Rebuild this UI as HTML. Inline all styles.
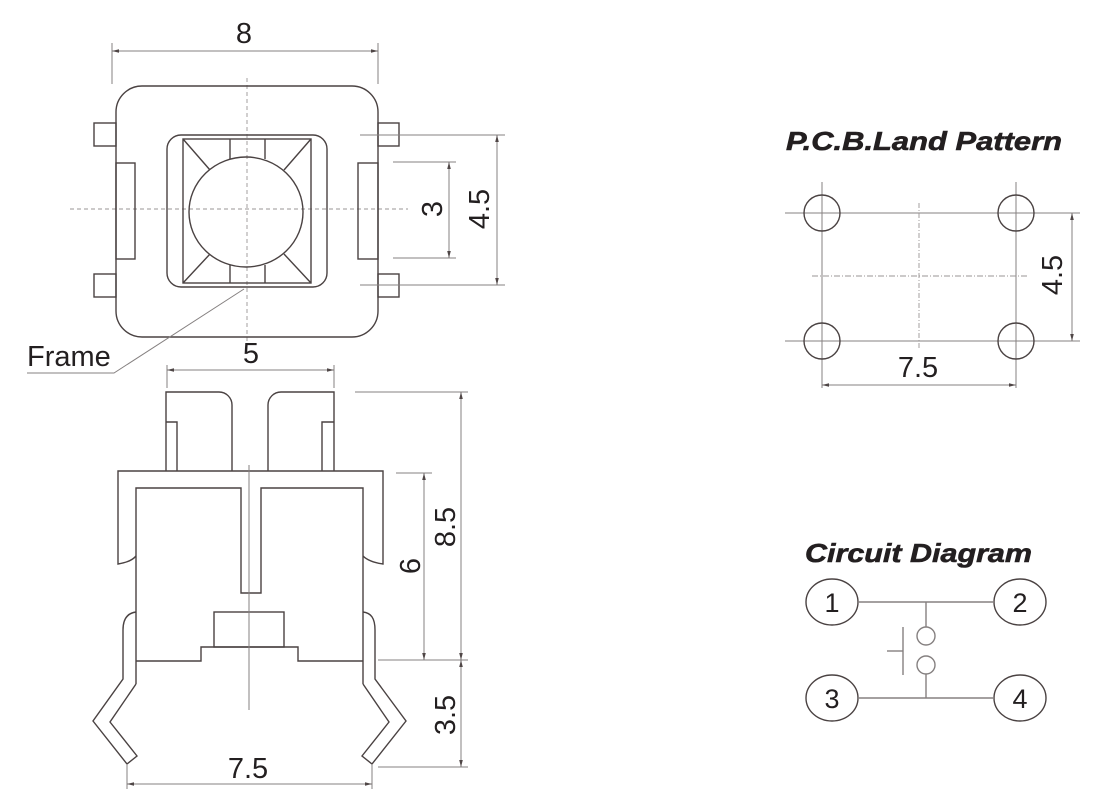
<!DOCTYPE html>
<html>
<head>
<meta charset="utf-8">
<style>
html,body{margin:0;padding:0;background:#fff;}
svg{display:block;}
text{font-family:"Liberation Sans",Arial,sans-serif;fill:#231f20;}
.o{fill:none;stroke:#4a4242;stroke-width:1.4;}
.d{fill:none;stroke:#858080;stroke-width:1;}
.c{fill:none;stroke:#9a9595;stroke-width:0.9;stroke-dasharray:4 3;}
.a{fill:#4f4646;stroke:none;}
.g{fill:none;stroke:#858080;stroke-width:1.4;}
.t{stroke:#231f20;stroke-width:0.6;}
</style>
</head>
<body>
<svg width="1120" height="812" viewBox="0 0 1120 812" xmlns="http://www.w3.org/2000/svg">

<!-- ================= TOP VIEW ================= -->
<line class="c" x1="247" y1="78" x2="247" y2="343"/>
<line class="c" x1="70" y1="209" x2="408" y2="209"/>

<rect class="o" x="116" y="86" width="262" height="251" rx="26" ry="26"/>
<rect class="o" x="94" y="123" width="22" height="23"/>
<rect class="o" x="94" y="274" width="22" height="23"/>
<rect class="o" x="378" y="123" width="21" height="23"/>
<rect class="o" x="378" y="274" width="21" height="23"/>
<rect class="o" x="116" y="163" width="19" height="96"/>
<rect class="o" x="358" y="163" width="20" height="96"/>
<rect class="o" x="167" y="135" width="160" height="152" rx="14" ry="14"/>
<rect class="o" x="183" y="139" width="128" height="144"/>
<ellipse class="o" cx="246" cy="212" rx="57" ry="55"/>
<line class="o" x1="230" y1="139" x2="230" y2="159"/>
<line class="o" x1="265" y1="139" x2="265" y2="159"/>
<line class="o" x1="230" y1="283" x2="230" y2="265"/>
<line class="o" x1="265" y1="283" x2="265" y2="265"/>
<line class="o" x1="183" y1="139" x2="210" y2="170"/>
<line class="o" x1="311" y1="139" x2="284" y2="170"/>
<line class="o" x1="183" y1="283" x2="210" y2="254"/>
<line class="o" x1="311" y1="283" x2="284" y2="254"/>

<!-- dim 8 -->
<line class="d" x1="112" y1="43" x2="112" y2="84"/>
<line class="d" x1="378" y1="43" x2="378" y2="84"/>
<line class="d" x1="112" y1="51" x2="378" y2="51"/>
<path class="a" d="M112,51 l7,-1.8 v3.6z M378,51 l-7,-1.8 v3.6z"/>
<text x="244" y="43" font-size="29" text-anchor="middle">8</text>

<!-- dim 3 -->
<line class="d" x1="393" y1="162" x2="456" y2="162"/>
<line class="d" x1="393" y1="258" x2="456" y2="258"/>
<line class="d" x1="449" y1="162" x2="449" y2="258"/>
<path class="a" d="M449,162 l-1.8,7 h3.6z M449,258 l-1.8,-7 h3.6z"/>
<text transform="translate(432,209) rotate(-90)" x="0" y="10" font-size="29" text-anchor="middle">3</text>

<!-- dim 4.5 -->
<line class="d" x1="360" y1="135" x2="505" y2="135"/>
<line class="d" x1="360" y1="285" x2="505" y2="285"/>
<line class="d" x1="497" y1="135" x2="497" y2="285"/>
<path class="a" d="M497,135 l-1.8,7 h3.6z M497,285 l-1.8,-7 h3.6z"/>
<text transform="translate(479,209) rotate(-90)" x="0" y="10" font-size="29" text-anchor="middle">4.5</text>

<!-- Frame label -->
<text x="27" y="366" font-size="29">Frame</text>
<polyline class="d" points="27,373 114,373 244,289"/>

<!-- ================= SIDE VIEW ================= -->
<line class="d" x1="167" y1="365" x2="167" y2="388"/>
<line class="d" x1="334" y1="365" x2="334" y2="388"/>
<line class="d" x1="167" y1="370" x2="334" y2="370"/>
<path class="a" d="M167,370 l7,-1.8 v3.6z M334,370 l-7,-1.8 v3.6z"/>
<text x="251" y="363" font-size="29" text-anchor="middle">5</text>

<path class="o" d="M166,471 V392 H219 A13,13 0 0 1 232,405 V471"/>
<path class="o" d="M166,422 H177 V471"/>
<path class="o" d="M334,471 V392 H281 A13,13 0 0 0 268,405 V471"/>
<path class="o" d="M334,422 H322 V471"/>

<path class="o" d="M136,556 Q131,562 118,564 V471 H383 V564 Q369,562 363,556"/>
<path class="o" d="M136,684 V488 H241 V593 H261 V488 H363 V684"/>
<path class="o" d="M136,661 H201 V647 H298 V661 H363"/>
<rect class="o" x="214" y="612" width="70" height="35"/>
<line class="d" x1="249" y1="465" x2="249" y2="710"/>

<path class="o" d="M136,612 C128,613 123,618 123,630 V679 L93,721 L127,764 L137,756 L110,722 L136,684"/>
<path class="o" d="M363,612 C371,613 375,618 375,630 V679 L406,721 L372,764 L362,756 L389,722 L363,684"/>

<!-- dim 7.5 bottom -->
<line class="d" x1="127" y1="764" x2="127" y2="789"/>
<line class="d" x1="372" y1="764" x2="372" y2="789"/>
<line class="d" x1="127" y1="784" x2="372" y2="784"/>
<path class="a" d="M127,784 l7,-1.8 v3.6z M372,784 l-7,-1.8 v3.6z"/>
<text x="248" y="778" font-size="29" text-anchor="middle">7.5</text>

<!-- dim 8.5 / 3.5 -->
<line class="d" x1="355" y1="392" x2="468" y2="392"/>
<line class="d" x1="378" y1="660" x2="468" y2="660"/>
<line class="d" x1="378" y1="767" x2="468" y2="767"/>
<line class="d" x1="461" y1="392" x2="461" y2="767"/>
<path class="a" d="M461,392 l-1.8,7 h3.6z M461,660 l-1.8,-7 h3.6z M461,660 l-1.8,7 h3.6z M461,767 l-1.8,-7 h3.6z"/>
<text transform="translate(445,527) rotate(-90)" x="0" y="10" font-size="29" text-anchor="middle">8.5</text>
<text transform="translate(445,715) rotate(-90)" x="0" y="10" font-size="29" text-anchor="middle">3.5</text>

<!-- dim 6 -->
<line class="d" x1="396" y1="473" x2="432" y2="473"/>
<line class="d" x1="424" y1="473" x2="424" y2="660"/>
<path class="a" d="M424,473 l-1.8,7 h3.6z M424,660 l-1.8,-7 h3.6z"/>
<text transform="translate(410,566) rotate(-90)" x="0" y="10" font-size="29" text-anchor="middle">6</text>

<!-- ================= PCB LAND PATTERN ================= -->
<text class="t" x="786" y="150" font-size="26" font-weight="bold" font-style="italic" textLength="276" lengthAdjust="spacingAndGlyphs">P.C.B.Land Pattern</text>
<line class="d" x1="785" y1="213" x2="1080" y2="213"/>
<line class="d" x1="785" y1="341" x2="1080" y2="341"/>
<line class="d" x1="822" y1="182" x2="822" y2="388"/>
<line class="d" x1="1016" y1="182" x2="1016" y2="388"/>
<line class="c" x1="919" y1="203" x2="919" y2="350" style="stroke-dasharray:5 2 1 2"/>
<line class="c" x1="812" y1="276" x2="1028" y2="276" style="stroke-dasharray:6 2 1 2"/>
<circle class="o" cx="822" cy="213" r="18"/>
<circle class="o" cx="1016" cy="213" r="18"/>
<circle class="o" cx="822" cy="341" r="18"/>
<circle class="o" cx="1016" cy="341" r="18"/>
<line class="d" x1="1072" y1="213" x2="1072" y2="341"/>
<path class="a" d="M1072,213 l-1.8,7 h3.6z M1072,341 l-1.8,-7 h3.6z"/>
<text transform="translate(1052,275) rotate(-90)" x="0" y="10" font-size="29" text-anchor="middle">4.5</text>
<line class="d" x1="822" y1="385" x2="1016" y2="385"/>
<path class="a" d="M822,385 l7,-1.8 v3.6z M1016,385 l-7,-1.8 v3.6z"/>
<text x="918" y="377" font-size="29" text-anchor="middle">7.5</text>

<!-- ================= CIRCUIT DIAGRAM ================= -->
<text class="t" x="805" y="562" font-size="26" font-weight="bold" font-style="italic" textLength="227" lengthAdjust="spacingAndGlyphs">Circuit Diagram</text>
<ellipse class="o" cx="832" cy="602" rx="26" ry="23"/>
<ellipse class="o" cx="1020" cy="602" rx="26" ry="23"/>
<ellipse class="o" cx="832" cy="698" rx="26" ry="23"/>
<ellipse class="o" cx="1020" cy="698" rx="26" ry="23"/>
<text x="832" y="612" font-size="27" text-anchor="middle">1</text>
<text x="1020" y="612" font-size="27" text-anchor="middle">2</text>
<text x="832" y="708" font-size="27" text-anchor="middle">3</text>
<text x="1020" y="708" font-size="27" text-anchor="middle">4</text>
<line class="g" x1="858" y1="602" x2="994" y2="602"/>
<line class="g" x1="858" y1="698" x2="994" y2="698"/>
<line class="g" x1="926" y1="602" x2="926" y2="627"/>
<circle class="g" cx="926" cy="636" r="9"/>
<circle class="g" cx="926" cy="665" r="9"/>
<line class="g" x1="926" y1="674" x2="926" y2="698"/>
<line class="g" x1="903" y1="627" x2="903" y2="675"/>
<line class="g" x1="887" y1="651" x2="903" y2="651"/>

</svg>
</body>
</html>
